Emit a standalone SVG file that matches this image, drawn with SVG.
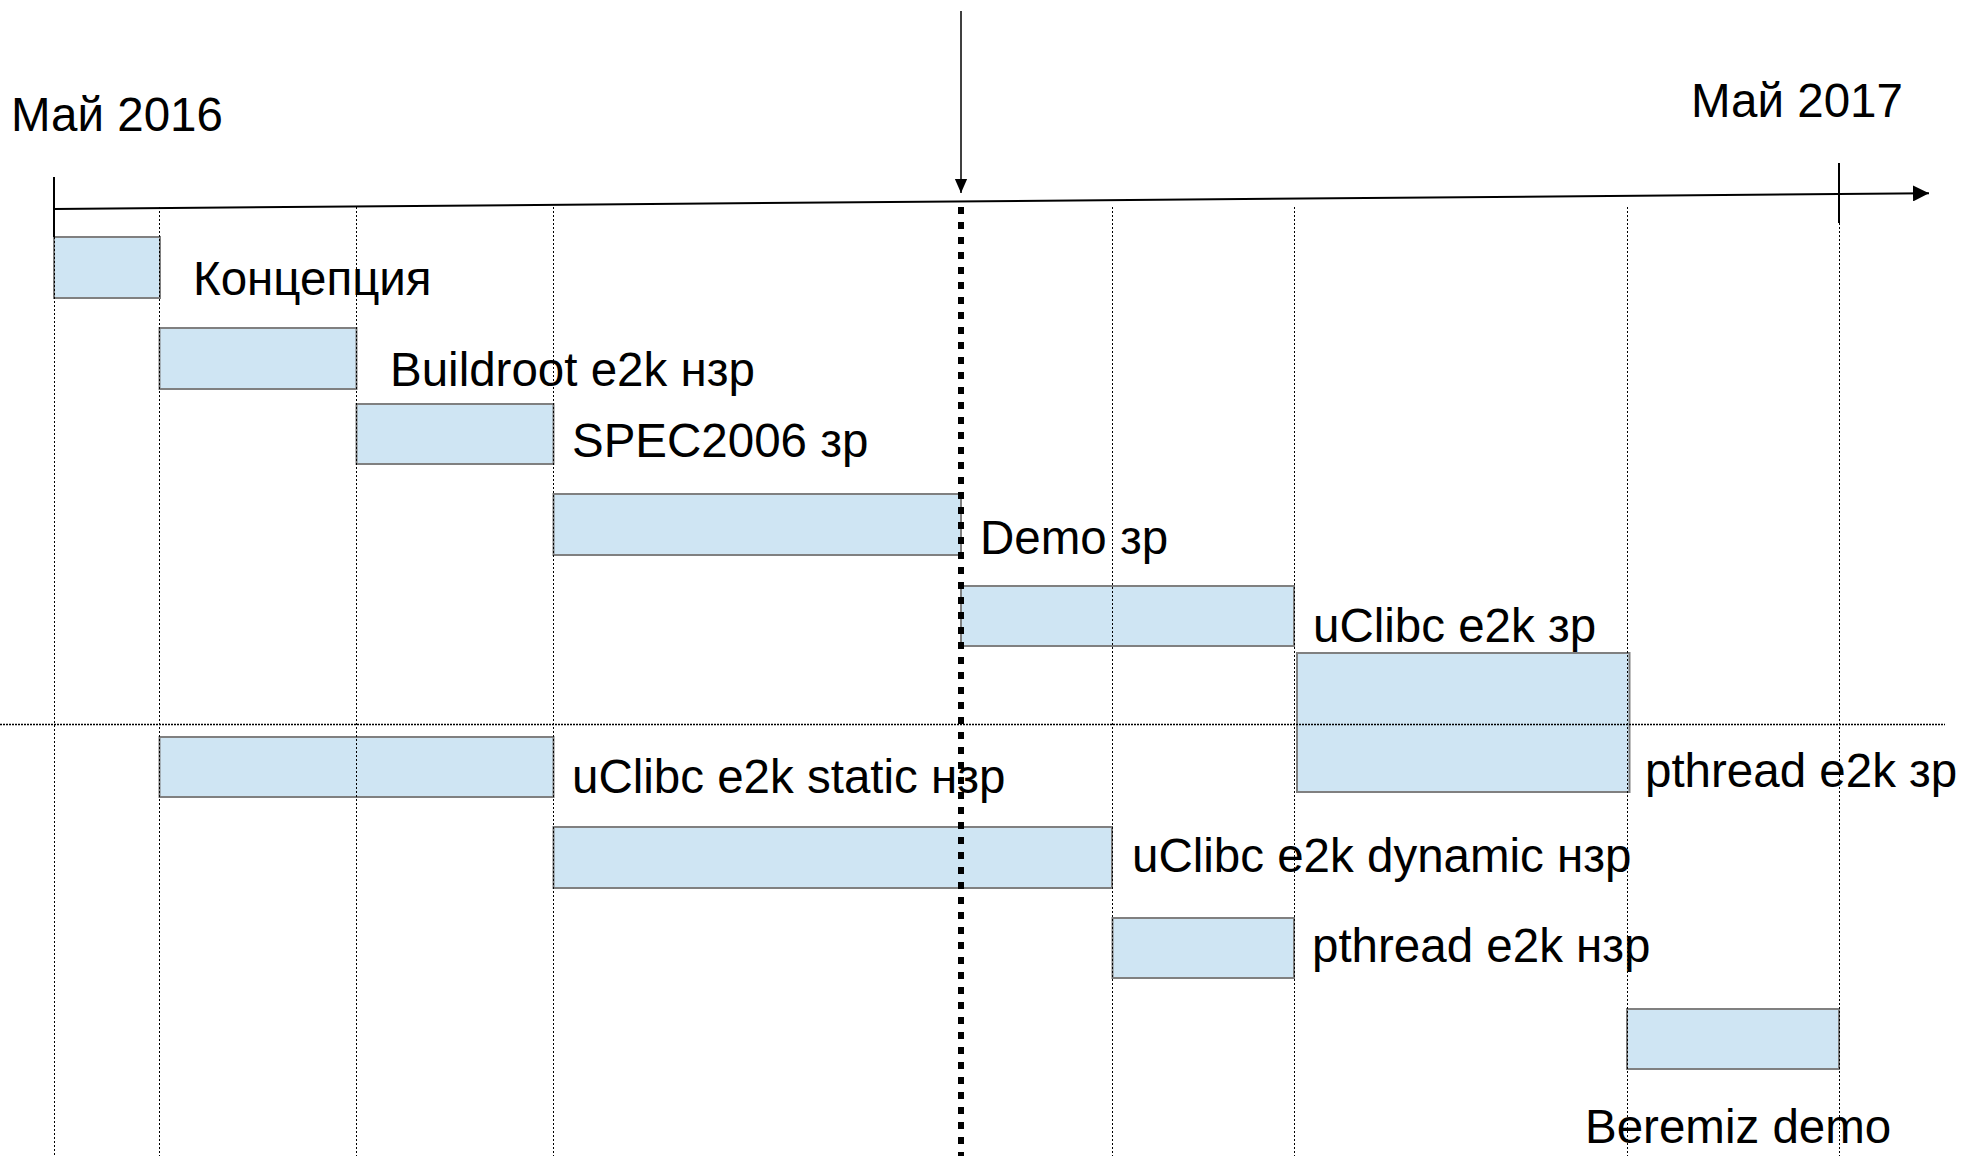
<svg xmlns="http://www.w3.org/2000/svg" width="1964" height="1156" viewBox="0 0 1964 1156">
<style>
.bar{fill:#cfe5f3;stroke:#808080;stroke-width:2}
.lbl{font-family:"Liberation Sans",Arial,sans-serif;font-size:47.5px;fill:#000}
.grid{stroke:#000;stroke-width:1;stroke-dasharray:2 2;fill:none}
.hgrid{stroke:#000;stroke-width:1.3;stroke-dasharray:2 1;fill:none}
.axis{stroke:#000;stroke-width:2;fill:none}
</style>
<defs>
<marker id="arr" markerWidth="16" markerHeight="16" viewBox="0 0 16 16" refX="16" refY="8" orient="auto" markerUnits="userSpaceOnUse">
<path d="M0,0 L16,8 L0,16 Z" fill="#000"/>
</marker>
<marker id="arrd" markerWidth="14" markerHeight="16" viewBox="0 0 16 16" refX="16" refY="8" orient="auto" markerUnits="userSpaceOnUse">
<path d="M0,1 L16,8 L0,15 Z" fill="#000"/>
</marker>
</defs>
<rect width="1964" height="1156" fill="#fff"/>
<g id="bars">
<g id="n-concept"><rect class="bar" x="54" y="237" width="106" height="61"/></g>
<g id="n-buildroot"><rect class="bar" x="159.5" y="328" width="197" height="61"/></g>
<g id="n-spec"><rect class="bar" x="356.5" y="404" width="197" height="60"/></g>
<g id="n-demo"><rect class="bar" x="553.5" y="494" width="407.5" height="61"/></g>
<g id="n-uclibc-zr"><rect class="bar" x="961" y="586" width="333" height="60"/></g>
<g id="n-pthread-zr"><rect class="bar" x="1297" y="653" width="332.5" height="139"/></g>
<g id="n-static"><rect class="bar" x="159.5" y="737" width="394" height="60"/></g>
<g id="n-dynamic"><rect class="bar" x="553.5" y="827" width="558.5" height="61"/></g>
<g id="n-pthread-nzr"><rect class="bar" x="1112.5" y="918" width="181.5" height="60"/></g>
<g id="n-beremiz"><rect class="bar" x="1627" y="1009" width="212" height="60"/></g>
</g>
<g id="labels">
<text class="lbl" x="11" y="131">Май 2016</text>
<text class="lbl" x="1691" y="117">Май 2017</text>
<text class="lbl" x="193" y="295">Концепция</text>
<text class="lbl" x="390" y="386">Buildroot e2k нзр</text>
<text class="lbl" x="572" y="457">SPEC2006 зр</text>
<text class="lbl" x="980" y="554">Demo зр</text>
<text class="lbl" x="1313" y="642">uClibc e2k зр</text>
<text class="lbl" x="1645" y="787">pthread e2k зр</text>
<text class="lbl" x="572" y="793">uClibc e2k static нзр</text>
<text class="lbl" x="1132" y="872">uClibc e2k dynamic нзр</text>
<text class="lbl" x="1312" y="962">pthread e2k нзр</text>
<text class="lbl" x="1585" y="1143">Beremiz demo</text>
</g>
<g id="connectors">
<path class="hgrid" d="M0,724.5 H1945"/>
<path class="grid" d="M54.5,237 V1156"/>
<path class="grid" d="M159.5,207 V1156"/>
<path class="grid" d="M356.5,207 V1156"/>
<path class="grid" d="M553.5,207 V1156"/>
<path class="grid" d="M1112.5,207 V1156"/>
<path class="grid" d="M1294.5,207 V1156"/>
<path class="grid" d="M1627.5,207 V1156"/>
<path class="grid" d="M1839.5,207 V1156"/>
<path d="M961,207 V1156" stroke="#000" stroke-width="6" stroke-dasharray="7 8" fill="none"/>
<path class="axis" d="M54,177 V237"/>
<path class="axis" d="M1839,163 V223" stroke-width="1.5"/>
<path class="axis" d="M54,209 L1929,193.3" marker-end="url(#arr)"/>
<path d="M961,11 V193" stroke="#000" stroke-width="1.5" fill="none" marker-end="url(#arrd)"/>
</g>
</svg>
